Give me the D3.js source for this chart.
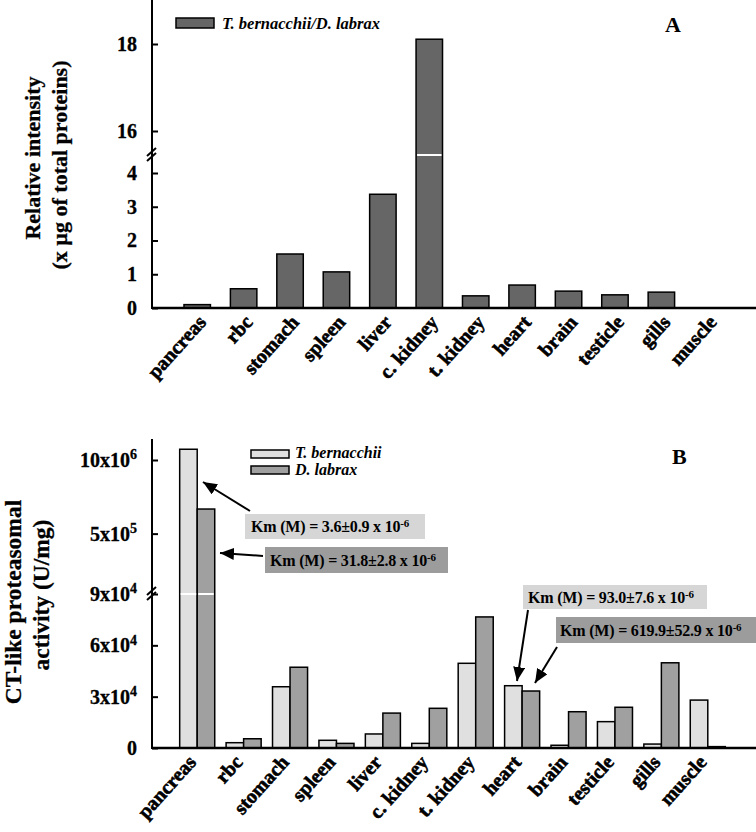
<!DOCTYPE html>
<html><head><meta charset="utf-8">
<script src="https://cdn.jsdelivr.net/npm/d3@7"></script>
<style>
body{margin:0;background:#fff}
svg{display:block}
text{font-family:"Liberation Serif","Times New Roman",serif;font-weight:bold;fill:#000}
</style>
</head><body>
<svg id="chart" width="756" height="832"></svg>
<script>
// ---------- data ----------
const tissues = ["pancreas","rbc","stomach","spleen","liver","c. kidney","t. kidney","heart","brain","testicle","gills","muscle"];
const ratioA = [0.1, 0.57, 1.6, 1.07, 3.37, 18.11, 0.36, 0.68, 0.5, 0.39, 0.47, 0];
const tbActivity = [1073000, 3100, 35800, 4500, 8200, 2700, 49500, 36400, 1600, 15400, 2300, 28000];
const dlActivity = [667000, 5400, 47200, 2700, 20400, 23200, 76600, 33300, 21200, 23800, 49800, 800];
const seriesB = ["T. bernacchii", "D. labrax"];
const legendA = "T. bernacchii/D. labrax";
const ticksALow = [0, 1, 2, 3, 4];
const ticksAHigh = [16, 18];
const ticksBLow = [0, 30000, 60000, 90000];
const ticksBHigh = [500000, 1000000];
const tickLabelsB = [["0",""],["3x10","4"],["6x10","4"],["9x10","4"],["5x10","5"],["10x10","6"]];
const kmTexts = [["Km (M) = 3.6±0.9 x 10","-6"],["Km (M) = 31.8±2.8 x 10","-6"],["Km (M) = 93.0±7.6 x 10","-6"],["Km (M) = 619.9±52.9 x 10","-6"]];
const yTitleA = ["Relative intensity", "(x µg of total proteins)"];
const yTitleB = ["CT-like proteasomal", "activity (U/mg)"];

// ---------- layout ----------
const svg = d3.select("#chart");
const axisX = 152, axisRight = 756;
const colA = "#666666", colTb = "#e0e0e0", colDl = "#a0a0a0";
const boxLight = "#d6d6d6", boxDark = "#9c9c9c";

const x = d3.scaleBand().domain(tissues).range([174, 731]).paddingInner(0.43).paddingOuter(0.215);
const xg = d3.scaleBand().domain(tissues).range([174, 731]).paddingInner(0.245).paddingOuter(0.1225);
const xs = d3.scaleBand().domain(seriesB).range([0, xg.bandwidth()]);

svg.append("defs").append("marker")
  .attr("id","ah").attr("markerUnits","userSpaceOnUse")
  .attr("viewBox","0 0 14 12").attr("refX",14).attr("refY",6)
  .attr("markerWidth",14).attr("markerHeight",12).attr("orient","auto")
  .append("path").attr("d","M0,0 L14,6 L0,12 Z").attr("fill","#000");

function breakMark(g, y) {
  [-3, 2].forEach(o => {
    g.append("line").attr("x1", axisX - 5).attr("y1", y + 4 + o).attr("x2", axisX + 4).attr("y2", y - 4 + o)
      .attr("stroke", "#000").attr("stroke-width", 2);
  });
}

function yAxisSeg(g, scale, vals, fmt) {
  const ax = d3.axisLeft(scale).tickValues(vals).tickSizeInner(-6).tickSizeOuter(0).tickPadding(15).tickFormat(fmt);
  const a = g.append("g").attr("transform", `translate(${axisX},0)`).call(ax);
  a.select(".domain").remove();
  a.selectAll(".tick line").attr("stroke","#000").attr("stroke-width",2);
  a.selectAll(".tick text").style("font-size","20px").attr("fill","#000")
    .attr("stroke","#000").attr("stroke-width",0.3);
  return a;
}

function xLabels(g, y0, dx, dy) {
  const ax = d3.axisBottom(x).tickSize(0);
  const a = g.append("g").attr("transform", `translate(0,${y0})`).call(ax);
  a.select(".domain").remove();
  a.selectAll(".tick text").attr("x", 0).attr("y", 0).attr("dy", 0)
    .attr("text-anchor", "end").style("font-size", "20px").attr("fill","#000")
    .attr("stroke","#000").attr("stroke-width",0.6)
    .attr("transform", `translate(${dx},${dy}) rotate(-48)`);
}

// ================= Panel A =================
const gA = svg.append("g");
const y0A = 308, breakA = 155, topA = 0;
const yLowA = d3.scaleLinear().domain([0, 4]).range([308, 173]);
const yHighA = d3.scaleLinear().domain([16, 18]).range([131, 44]);
const brkValA = yLowA.invert(breakA);
const yA = v => v > brkValA ? yHighA(v) : yLowA(v);

gA.selectAll("rect.bar").data(tissues.map((t, i) => ({t, v: ratioA[i]})).filter(d => d.v > 0))
  .join("rect").attr("class","bar")
  .attr("x", d => x(d.t)).attr("width", x.bandwidth())
  .attr("y", d => yA(d.v)).attr("height", d => y0A - yA(d.v))
  .attr("fill", colA).attr("stroke", "#000").attr("stroke-width", 1.5);
gA.selectAll("line.gap").data(tissues.map((t, i) => ({t, v: ratioA[i]})).filter(d => d.v > brkValA))
  .join("line").attr("class","gap")
  .attr("x1", d => x(d.t) + 1).attr("x2", d => x(d.t) + x.bandwidth() - 1)
  .attr("y1", breakA).attr("y2", breakA).attr("stroke", "#fff").attr("stroke-width", 2);

yAxisSeg(gA, yLowA, ticksALow, d3.format("d"));
yAxisSeg(gA, yHighA, ticksAHigh, d3.format("d"));
gA.append("line").attr("x1", axisX).attr("x2", axisX).attr("y1", topA).attr("y2", y0A + 1).attr("stroke","#000").attr("stroke-width",2);
gA.append("line").attr("x1", axisX).attr("x2", axisRight).attr("y1", y0A).attr("y2", y0A).attr("stroke","#000").attr("stroke-width",2.5);
breakMark(gA, breakA);
xLabels(gA, y0A, 10, 15);

gA.append("rect").attr("x",176).attr("y",18).attr("width",38).attr("height",10).attr("fill",colA).attr("stroke","#000").attr("stroke-width",1.5);
gA.append("text").attr("x",222).attr("y",29).style("font-size","16.5px").style("font-style","italic").text(legendA);
gA.append("text").attr("x",665).attr("y",32).style("font-size","22px").text("A");

gA.append("text").attr("transform","translate(40,158) rotate(-90)").attr("text-anchor","middle").style("font-size","22px").attr("stroke","#000").attr("stroke-width",0.3).text(yTitleA[0]);
gA.append("text").attr("transform","translate(67,165) rotate(-90)").attr("text-anchor","middle").style("font-size","22px").attr("stroke","#000").attr("stroke-width",0.3).text(yTitleA[1]);

// ================= Panel B =================
const gB = svg.append("g");
const y0B = 748, breakB = 594, topB = 439;
const yLowB = d3.scaleLinear().domain([0, 90000]).range([748, 594]);
const yHighB = d3.scaleLinear().domain([90000, 1000000]).range([594, 460]);
const brkValB = 90000;
const yB = v => v > brkValB ? yHighB(v) : yLowB(v);

const dataB = tissues.map((t, i) => [
  {t, s: seriesB[0], v: tbActivity[i], c: colTb},
  {t, s: seriesB[1], v: dlActivity[i], c: colDl}
]).flat();

gB.selectAll("rect.bar").data(dataB).join("rect").attr("class","bar")
  .attr("x", d => xg(d.t) + xs(d.s)).attr("width", xs.bandwidth())
  .attr("y", d => yB(d.v)).attr("height", d => y0B - yB(d.v))
  .attr("fill", d => d.c).attr("stroke","#000").attr("stroke-width",1.5);
gB.selectAll("line.gap").data(dataB.filter(d => d.v > brkValB)).join("line").attr("class","gap")
  .attr("x1", d => xg(d.t) + xs(d.s) + 1).attr("x2", d => xg(d.t) + xs(d.s) + xs.bandwidth() - 1)
  .attr("y1", breakB).attr("y2", breakB).attr("stroke","#fff").attr("stroke-width",2);

function supLabels(a, labels) {
  a.selectAll(".tick text").each(function(d, i) {
    const t = d3.select(this); t.text(null);
    const lab = labels[i];
    t.append("tspan").text(lab[0]);
    if (lab[1]) t.append("tspan").attr("dy","-0.55em").style("font-size","14px").text(lab[1]);
  });
}
const aLowB = yAxisSeg(gB, yLowB, ticksBLow, d => d);
supLabels(aLowB, tickLabelsB.slice(0, 4));
const aHighB = yAxisSeg(gB, yHighB, ticksBHigh, d => d);
supLabels(aHighB, tickLabelsB.slice(4));
gB.append("line").attr("x1", axisX).attr("x2", axisX).attr("y1", topB).attr("y2", y0B + 1).attr("stroke","#000").attr("stroke-width",2);
gB.append("line").attr("x1", axisX).attr("x2", axisRight).attr("y1", y0B).attr("y2", y0B).attr("stroke","#000").attr("stroke-width",2.5);
breakMark(gB, breakB);
xLabels(gB, y0B, 0, 15);

[[450, colTb], [466, colDl]].forEach((r, i) => {
  gB.append("rect").attr("x",251).attr("y",r[0]).attr("width",38).attr("height",8).attr("fill",r[1]).attr("stroke","#000").attr("stroke-width",1.5);
  gB.append("text").attr("x",295).attr("y", i ? 475 : 458).style("font-size","16px").style("font-style","italic").text(seriesB[i]);
});
gB.append("text").attr("x",672).attr("y",464).style("font-size","22px").text("B");

gB.append("text").attr("transform","translate(21,602) rotate(-90)").attr("text-anchor","middle").style("font-size","23.5px").attr("stroke","#000").attr("stroke-width",0.3).text(yTitleB[0]);
gB.append("text").attr("transform","translate(49,595) rotate(-90)").attr("text-anchor","middle").style("font-size","23.5px").attr("stroke","#000").attr("stroke-width",0.3).text(yTitleB[1]);

// annotations (layout positions)
const boxes = [
  {x:245, y:514, w:180, h:25, fill:boxLight, tx:251, ty:532},
  {x:265, y:547, w:183, h:26, fill:boxDark,  tx:270, ty:566},
  {x:523, y:585, w:184, h:24, fill:boxLight, tx:528, ty:603},
  {x:556, y:617, w:200, h:26, fill:boxDark,  tx:560, ty:636}
];
boxes.forEach((b, i) => {
  gB.append("rect").attr("x",b.x).attr("y",b.y).attr("width",b.w).attr("height",b.h).attr("fill",b.fill);
  const t = gB.append("text").attr("x",b.tx).attr("y",b.ty).style("font-size","16px").style("letter-spacing","-0.2px");
  t.append("tspan").text(kmTexts[i][0]);
  t.append("tspan").attr("dy","-0.5em").style("font-size","11px").text(kmTexts[i][1]);
});
const arrows = [
  [250, 511, 203, 482],
  [263, 556, 220, 553],
  [528, 610, 517, 681],
  [557, 647, 535, 683]
];
arrows.forEach(a => {
  gB.append("line").attr("x1",a[0]).attr("y1",a[1]).attr("x2",a[2]).attr("y2",a[3])
    .attr("stroke","#000").attr("stroke-width",2).attr("marker-end","url(#ah)");
});
</script>
</body></html>
